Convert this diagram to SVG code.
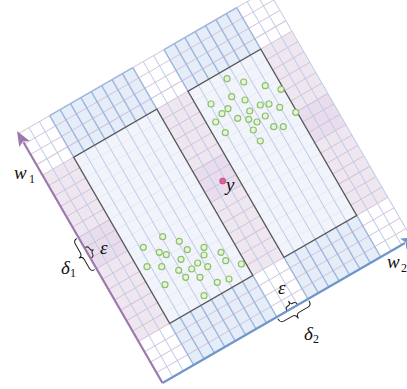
<svg xmlns="http://www.w3.org/2000/svg" width="407" height="389" viewBox="0 0 407 389">
<style>
.thinU{stroke:#bccbe7;stroke-width:0.9;fill:none}
.thinV{stroke:#d3c1da;stroke-width:0.9;fill:none}
.thickU{stroke:#9fb6de;stroke-width:1.3;fill:none}
.bandB{fill:#e5edf9}
.bandP{fill:#efe7f0}
.darkP{fill:#e8ddec}
.box{fill:#eff1fa}
.boxEdge{fill:none;stroke:#5a5a5a;stroke-width:1.3}
.pt{fill:#e8f3de;stroke:#8cc26a;stroke-width:1.2}
.lbl{font-family:"Liberation Serif","DejaVu Serif",serif;font-style:italic;font-size:19px;fill:#111}
.sub{font-family:"Liberation Serif","DejaVu Serif",serif;font-size:12px;fill:#111}
.brace{fill:none;stroke:#222;stroke-width:1}
</style>
<g id="plane" transform="translate(162.5,383) rotate(-30)">
  <g id="regions">
    <rect class="bandP" x="0" y="-240" width="36" height="192"/>
    <rect class="bandP" x="132" y="-240" width="36" height="192"/>
    <rect class="bandP" x="252" y="-240" width="36" height="192"/>
    <rect class="darkP" x="0" y="-168" width="36" height="36"/>
    <rect class="darkP" x="132" y="-168" width="36" height="36"/>
    <rect class="darkP" x="252" y="-168" width="36" height="36"/>
    <rect class="bandB" x="36" y="-48" width="96" height="48"/>
    <rect class="bandB" x="168" y="-48" width="84" height="48"/>
    <rect class="bandB" x="36" y="-288" width="96" height="48"/>
    <rect class="bandB" x="168" y="-288" width="84" height="48"/>
  </g>
  <g id="grid">
    <path class="thinV" d="M0,-12H288M0,-24H288M0,-36H288M0,-48H288M0,-60H288M0,-72H288M0,-84H288M0,-96H288M0,-108H288M0,-120H288M0,-132H288M0,-144H288M0,-156H288M0,-168H288M0,-180H288M0,-192H288M0,-204H288M0,-216H288M0,-228H288M0,-240H288M0,-252H288M0,-264H288M0,-276H288M0,-288H288"/>
    <rect class="box" x="36" y="-240" width="96" height="192" fill-opacity="0.8"/>
    <rect class="box" x="168" y="-240" width="84" height="192" fill-opacity="0.8"/>
    <path class="thinU" d="M12,0V-288M24,0V-288M36,0V-288M48,0V-288M60,0V-288M72,0V-288M84,0V-288M96,0V-288M108,0V-288M120,0V-288M132,0V-288M144,0V-288M156,0V-288M168,0V-288M180,0V-288M192,0V-288M204,0V-288M216,0V-288M228,0V-288M240,0V-288M252,0V-288M264,0V-288M276,0V-288M288,0V-288"/>
    <path class="thickU" d="M36,0V-48M48,0V-48M60,0V-48M72,0V-48M84,0V-48M96,0V-48M108,0V-48M120,0V-48M132,0V-48M168,0V-48M180,0V-48M192,0V-48M204,0V-48M216,0V-48M228,0V-48M240,0V-48M252,0V-48"/>
    <path class="thickU" d="M36,-240V-288M48,-240V-288M60,-240V-288M72,-240V-288M84,-240V-288M96,-240V-288M108,-240V-288M120,-240V-288M132,-240V-288M168,-240V-288M180,-240V-288M192,-240V-288M204,-240V-288M216,-240V-288M228,-240V-288M240,-240V-288M252,-240V-288"/>
    <path class="thickU" d="M36,-288H132M168,-288H252"/>
  </g>
  <g id="box1"><rect class="boxEdge" x="36" y="-240" width="96" height="192"/></g>
  <g id="box2"><rect class="boxEdge" x="168" y="-240" width="84" height="192"/></g>
  <g id="axes">
    <path d="M0,0V-278" stroke="#9b78ad" stroke-width="2.2" fill="none"/>
    <path d="M0,-291L-6,-276L0,-279L6,-276Z" fill="#9b78ad"/>
    <path d="M0,0H280" stroke="#6f96c9" stroke-width="2.2" fill="none"/>
    <path d="M293,0L278,-6L281,0L278,6Z" fill="#6f96c9"/>
  </g>
  <g id="braces">
    <path class="brace" d="M132,2Q132,7 136,7L146,7Q150,7 150,12Q150,7 154,7L164,7Q168,7 168,2"/>
    <path class="brace" d="M144,-1Q144,-4 147,-4L148,-4Q150,-4 150,-8Q150,-4 152,-4L153,-4Q156,-4 156,-1"/>
    <path class="brace" d="M-2,-132Q-6,-132 -6,-136L-6,-146Q-6,-150 -10,-150Q-6,-150 -6,-154L-6,-164Q-6,-168 -2,-168"/>
    <path class="brace" d="M1,-144Q4,-144 4,-147L4,-147Q4,-150 7,-150Q4,-150 4,-153L4,-153Q4,-156 1,-156"/>
  </g>
</g>
<g id="points">
  <circle class="pt" cx="143.3" cy="247.3" r="3"/><circle class="pt" cx="162.7" cy="236.7" r="3"/><circle class="pt" cx="179.3" cy="241.3" r="3"/><circle class="pt" cx="159.3" cy="252.3" r="3"/><circle class="pt" cx="166.3" cy="254.7" r="3"/><circle class="pt" cx="187.3" cy="249.7" r="3"/><circle class="pt" cx="204" cy="247.3" r="3"/><circle class="pt" cx="181" cy="259.3" r="3"/><circle class="pt" cx="147" cy="266.7" r="3"/><circle class="pt" cx="161.7" cy="266.7" r="3"/><circle class="pt" cx="178.7" cy="270.3" r="3"/><circle class="pt" cx="191.7" cy="269" r="3"/><circle class="pt" cx="197.7" cy="263" r="3"/><circle class="pt" cx="185.7" cy="277.3" r="3"/><circle class="pt" cx="200" cy="277.3" r="3"/><circle class="pt" cx="165" cy="284.7" r="3"/><circle class="pt" cx="204" cy="295.7" r="3"/><circle class="pt" cx="204" cy="255" r="3"/><circle class="pt" cx="221" cy="252.3" r="3"/><circle class="pt" cx="225.7" cy="260.7" r="3"/><circle class="pt" cx="207.7" cy="266.7" r="3"/><circle class="pt" cx="241.3" cy="264" r="3"/><circle class="pt" cx="217.3" cy="282.3" r="3"/><circle class="pt" cx="229" cy="279" r="3"/>
  <circle class="pt" cx="227" cy="78.7" r="3"/><circle class="pt" cx="243.7" cy="82" r="3"/><circle class="pt" cx="265.3" cy="85.7" r="3"/><circle class="pt" cx="281" cy="89.3" r="3"/><circle class="pt" cx="211" cy="104" r="3"/><circle class="pt" cx="231.7" cy="96.7" r="3"/><circle class="pt" cx="245" cy="100" r="3"/><circle class="pt" cx="228" cy="108.7" r="3"/><circle class="pt" cx="222" cy="113.7" r="3"/><circle class="pt" cx="260.3" cy="105" r="3"/><circle class="pt" cx="269" cy="104" r="3"/><circle class="pt" cx="279.7" cy="107.3" r="3"/><circle class="pt" cx="295.7" cy="112.3" r="3"/><circle class="pt" cx="249.7" cy="111" r="3"/><circle class="pt" cx="237.7" cy="118.3" r="3"/><circle class="pt" cx="248.7" cy="119.3" r="3"/><circle class="pt" cx="257" cy="122" r="3"/><circle class="pt" cx="265.3" cy="116" r="3"/><circle class="pt" cx="215.7" cy="122" r="3"/><circle class="pt" cx="225.3" cy="132.7" r="3"/><circle class="pt" cx="253.3" cy="130" r="3"/><circle class="pt" cx="273.7" cy="126.7" r="3"/><circle class="pt" cx="283.3" cy="126.7" r="3"/><circle class="pt" cx="260.3" cy="141" r="3"/>
</g>
<g id="query">
  <circle cx="222.7" cy="181" r="3" fill="#e2609c" stroke="#c8407e" stroke-width="0.8"/>
  <text class="lbl" x="226" y="191">y</text>
</g>
<g id="labels">
  <text class="lbl" x="14" y="179">w</text><text class="sub" x="29" y="183">1</text>
  <text class="lbl" x="387" y="268">w</text><text class="sub" x="401" y="272">2</text>
  <text class="lbl" x="61" y="274">δ</text><text class="sub" x="70" y="277">1</text>
  <text class="lbl" x="100" y="254">ε</text>
  <text class="lbl" x="278" y="294">ε</text>
  <text class="lbl" x="304" y="340">δ</text><text class="sub" x="313" y="343">2</text>
</g>
</svg>
